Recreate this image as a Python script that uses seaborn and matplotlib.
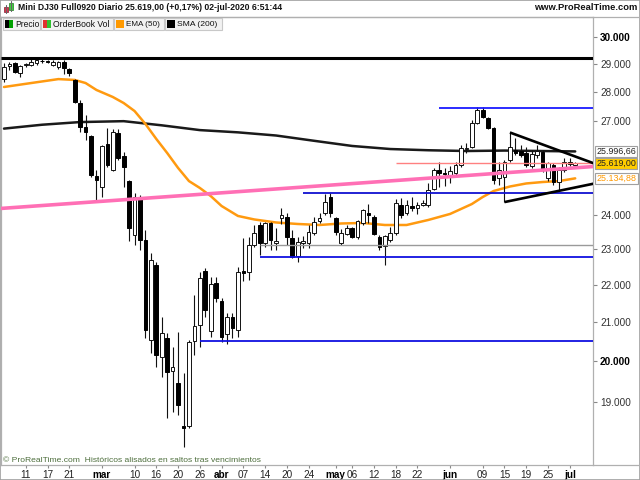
import numpy as np
import pandas as pd
import matplotlib
matplotlib.use("Agg")
import matplotlib.pyplot as plt
import matplotlib.transforms as mtrans
from matplotlib.patches import Rectangle
from matplotlib.lines import Line2D
from matplotlib.ticker import FixedLocator, FixedFormatter, NullLocator
import seaborn as sns

sns.set_style("white")
plt.rcParams["font.family"] = ["Liberation Sans", "DejaVu Sans"]

# ---------------- data ----------------
HOLIDAYS = ["2020-04-10"]
dates = pd.bdate_range("2020-02-05", "2020-07-02")
dates = dates[~dates.isin(pd.to_datetime(HOLIDAYS))]

opens = [28460, 28930, 29040, 28680, 28970, 28970, 29040, 29110, 29110, 28970, 28900, 29080, 28820, 28430,
         27620, 26800, 26500, 25210, 24865, 26240, 25400, 26600, 25850, 25050, 23415, 24555, 23270, 20530,
         22550, 20100, 20580, 19750, 19455, 18435, 18435, 20505, 20920, 22380, 20765, 22050, 21560, 20685,
         21130, 20790, 22380, 22355, 23125, 23710, 23180, 23770, 23180, 23920, 23950, 23325, 22805, 23180,
         23180, 23475, 23830, 24070, 24555, 23920, 23180, 23445, 23620, 23355, 23770, 24070, 23950, 23355,
         23095, 23270, 23475, 24310, 24070, 24280, 24220, 24310, 24310, 24800, 25400, 25305, 25210, 25305,
         25560, 26075, 26140, 26940, 27380, 27110, 26770, 25145, 25175, 25720, 26045, 26010, 25945, 25525,
         25880, 25975, 25145, 25560, 25020, 25400, 25655, 25560]
highs = [29040, 29080, 29080, 28970, 29040, 29185, 29220, 29190, 29150, 29150, 29110, 29150, 28860, 28460,
         27725, 27210, 26540, 25400, 26207, 26770, 26740, 26740, 25980, 25085, 24680, 24615, 23560, 22890,
         22640, 21130, 20710, 20350, 20740, 19700, 20530, 21720, 22355, 22465, 22215, 22215, 21640, 21235,
         21235, 22495, 23325, 23355, 23710, 23800, 23800, 23800, 23620, 24220, 24070, 23560, 23355, 23385,
         23710, 23950, 24070, 24650, 24680, 23950, 23590, 23710, 23650, 23860, 24190, 24340, 24010, 23415,
         23415, 23650, 24495, 24525, 24465, 24555, 24400, 24465, 24990, 25465, 25655, 25465, 25525, 25655,
         26205, 26275, 27040, 27485, 27485, 27140, 26805, 25655, 25720, 26605, 26435, 26205, 26140, 26045,
         26205, 26045, 25655, 25620, 25495, 25785, 25785, 25655]
lows = [28360, 28790, 28680, 28535, 28900, 28930, 28970, 29040, 29040, 28930, 28820, 28640, 28570, 27620,
        26640, 26370, 25180, 24400, 24555, 25495, 25370, 25720, 24865, 23240, 23125, 22980, 20580, 20200,
        19850, 19600, 18620, 18760, 18690, 17955, 18390, 20150, 20350, 21130, 20605, 21530, 20480, 20430,
        20580, 20605, 22105, 22130, 23065, 22835, 23065, 22980, 22980, 23740, 23125, 22750, 22635, 23035,
        23035, 23415, 23770, 24010, 23950, 23415, 23125, 23415, 23325, 23300, 23710, 23770, 23415, 22980,
        22550, 23210, 23415, 23920, 24010, 24130, 24040, 24280, 24250, 24770, 24865, 24895, 24990, 25210,
        25495, 25945, 26110, 26905, 27110, 26735, 24955, 24925, 24400, 25655, 25880, 25815, 25495, 25465,
        25785, 25335, 25050, 24925, 24770, 25335, 25525, 25525]
closes = [28900, 29000, 28710, 28930, 29000, 29080, 29150, 29100, 29080, 29080, 29080, 28860, 28680, 27655,
          26805, 26640, 25240, 25080, 26175, 25560, 26640, 25780, 25495, 23620, 24555, 23270, 20790, 22690,
          20150, 20710, 19725, 19850, 18925, 18390, 20480, 20895, 22185, 21315, 22020, 21640, 20605, 21130,
          20840, 22355, 22325, 23125, 23475, 23180, 23770, 23270, 23240, 24010, 23355, 22780, 23210, 23240,
          23500, 23800, 23920, 24400, 24070, 23500, 23475, 23620, 23355, 23830, 24160, 24010, 23445, 23065,
          23385, 23475, 24370, 24010, 24310, 24220, 24310, 24370, 24770, 25400, 25305, 25270, 25365, 25560,
          26110, 26110, 26940, 27380, 27140, 26770, 25085, 25400, 25655, 26140, 25945, 25880, 25560, 25910,
          26010, 25400, 25620, 25020, 25400, 25655, 25590, 25619]

ema_dates = ["2020-02-05", "2020-02-12", "2020-02-19", "2020-02-24", "2020-02-26", "2020-02-28", "2020-03-04",
             "2020-03-06", "2020-03-10", "2020-03-12", "2020-03-16", "2020-03-18", "2020-03-20", "2020-03-24",
             "2020-03-26", "2020-03-30", "2020-04-01", "2020-04-06", "2020-04-09", "2020-04-16", "2020-04-22",
             "2020-04-28", "2020-05-04", "2020-05-08", "2020-05-14", "2020-05-20", "2020-05-26", "2020-06-01",
             "2020-06-05", "2020-06-09", "2020-06-11", "2020-06-16", "2020-06-19", "2020-06-24", "2020-06-29",
             "2020-07-02"]
ema_vals = [28180, 28320, 28460, 28430, 28320, 28075, 27830, 27620, 27345, 26905, 26405, 25945, 25465, 25050,
            24835, 24585, 24280, 23980, 23875, 23785, 23740, 23710, 23755, 23770, 23710, 23710, 23860, 24040,
            24340, 24555, 24740, 24880, 24975, 25020, 25050, 25135]

sma_dates = ["2020-02-05", "2020-02-14", "2020-02-25", "2020-03-06", "2020-03-17", "2020-03-26", "2020-04-06",
             "2020-04-16", "2020-04-27", "2020-05-06", "2020-05-15", "2020-05-26", "2020-06-04", "2020-06-15",
             "2020-06-24", "2020-07-02"]
sma_vals = [26750, 26880, 26970, 27000, 26860, 26700, 26625, 26520, 26345, 26175, 26075, 26035, 26010, 26025,
            26010, 25997]

# horizontal levels: (price, start date or None, colour, width)
level_prices = [29220, 27450, 25619, 24680, 23125, 22780, 20505]
level_starts = [None, "2020-05-28", "2020-05-18", "2020-04-23", "2020-04-13", "2020-04-13", "2020-03-26"]
level_colors = ["#000000", "#1a1aff", "#ff8080", "#1010d0", "#9a9a9a", "#1010e0", "#1010e0"]
level_widths = [2.2, 1.3, 1.0, 1.3, 1.0, 1.3, 1.3]

# pink trend line (two anchor points)
trend_dates = ["2020-02-05", "2020-07-02"]
trend_vals = [24213, 25469]

# triangle
tri_upper_dates = ["2020-06-16", "2020-07-08"]
tri_upper_vals = [26620, 25575]
tri_lower_dates = ["2020-06-15", "2020-07-08"]
tri_lower_vals = [24400, 24990]

ytick_vals = [19000, 20000, 21000, 22000, 23000, 24000, 27000, 28000, 29000, 30000]
ytick_labels = ["19.000", "20.000", "21.000", "22.000", "23.000", "24.000", "27.000", "28.000", "29.000",
                "30.000"]
xtick_dates = ["2020-02-11", "2020-02-17", "2020-02-21", "2020-03-02", "2020-03-10", "2020-03-16", "2020-03-20",
               "2020-03-26", "2020-04-01", "2020-04-07", "2020-04-14", "2020-04-20", "2020-04-24", "2020-05-01",
               "2020-05-06", "2020-05-12", "2020-05-18", "2020-05-22", "2020-06-01", "2020-06-09", "2020-06-15",
               "2020-06-19", "2020-06-25", "2020-07-01"]
xtick_labels = ["11", "17", "21", "mar", "10", "16", "20", "26", "abr", "07", "14", "20", "24", "may", "06",
                "12", "18", "22", "jun", "09", "15", "19", "25", "jul"]

price_boxes = [("25.996,66", 25997, "white", "#222222"),
               ("25.619,00", 25619, "#ffcc00", "#222222"),
               ("25.134,88", 25135, "white", "#ff9900")]


def pos(d):
    return int(np.busday_count(np.datetime64("2020-02-05"), np.datetime64(pd.Timestamp(d).date()),
                               holidays=HOLIDAYS))


W, H = 640, 480
fx = lambda px: px / W
fy = lambda py: 1 - py / H

fig = plt.figure(figsize=(6.4, 4.8), dpi=100)
ax = fig.add_axes([fx(1), fy(465), fx(593) - fx(1), fy(17) - fy(465)])

df = pd.DataFrame({"pos": np.arange(len(dates)), "open": opens, "high": highs, "low": lows, "close": closes})
up = df["close"] >= df["open"]

# indicators (under candles)
ema_df = pd.DataFrame({"pos": [pos(d) for d in ema_dates], "val": ema_vals})
sma_df = pd.DataFrame({"pos": [pos(d) for d in sma_dates], "val": sma_vals})
sns.lineplot(data=sma_df, x="pos", y="val", ax=ax, color="#1a1a1a", lw=1.8, zorder=2)
sns.lineplot(data=ema_df, x="pos", y="val", ax=ax, color="#ff9a10", lw=1.8, zorder=2)

# candles
ax.vlines(df["pos"], df["low"], df["high"], color="#111111", lw=0.8, zorder=3)
ax.bar(df["pos"][up], (df["close"] - df["open"])[up], bottom=df["open"][up], width=0.68,
       color="white", edgecolor="#111111", lw=0.7, zorder=4)
ax.bar(df["pos"][~up], (df["open"] - df["close"])[~up], bottom=df["close"][~up], width=0.68,
       color="black", edgecolor="black", lw=0.7, zorder=4)

xmin, xmax = -0.55, 108.27
ax.set_xlim(xmin, xmax)

# horizontal levels
for p, s, c, w in zip(level_prices, level_starts, level_colors, level_widths):
    x0 = xmin if s is None else pos(s)
    ax.hlines(p, x0, xmax, color=c, lw=w, zorder=5)

# pink trend line, straight on screen
ax.axline((pos(trend_dates[0]), trend_vals[0]), (pos(trend_dates[1]), trend_vals[1]),
          color="#ff6fb5", lw=2.6, zorder=5)

# triangle
ax.plot([pos(d) for d in tri_upper_dates], tri_upper_vals, color="black", lw=1.9, zorder=6,
        solid_capstyle="butt")
ax.plot([pos(d) for d in tri_lower_dates], tri_lower_vals, color="black", lw=1.9, zorder=6,
        solid_capstyle="butt")

ax.set_yscale("log")
ax.set_ylim(17558, 30760)
ax.yaxis.tick_right()
ax.yaxis.set_major_locator(FixedLocator(ytick_vals))
ax.yaxis.set_major_formatter(FixedFormatter(ytick_labels))
ax.yaxis.set_minor_locator(NullLocator())
ax.tick_params(axis="y", which="major", right=True, left=False, length=3, width=0.8, color="#888888",
               labelsize=7.2, pad=2, labelcolor="#333333")
for lab in ax.get_yticklabels():
    if lab.get_text() in ("20.000", "30.000"):
        lab.set_fontweight("bold")
        lab.set_color("#000000")

ax.set_xticks([pos(d) for d in xtick_dates])
ax.set_xticklabels(xtick_labels)
ax.tick_params(axis="x", bottom=True, length=2, width=0.8, color="#888888", labelsize=7.2, pad=1.5,
               labelcolor="#222222")
for lab in ax.get_xticklabels():
    if lab.get_text() in ("mar", "abr", "may", "jun", "jul"):
        lab.set_fontweight("bold")
        lab.set_color("#000000")
ax.set_xlabel("")
ax.set_ylabel("")
for s in ax.spines.values():
    s.set_color("#b0b0b0")
    s.set_linewidth(0.9)

# price boxes on right axis
btr = mtrans.blended_transform_factory(ax.transAxes, ax.transData)
for txt, val, fc, tc in price_boxes:
    ax.text(1.006, val, txt, transform=btr, ha="left", va="center", fontsize=6.4, color=tc,
            zorder=20, clip_on=False,
            bbox=dict(boxstyle="square,pad=0.12", fc=fc, ec="#a0a0a0", lw=0.8))

# ---------------- header ----------------
fig.add_artist(Line2D([0, 1], [fy(17), fy(17)], transform=fig.transFigure, color="#b0b0b0", lw=0.9))
fig.add_artist(Line2D([fx(593), 1], [fy(465), fy(465)], transform=fig.transFigure, color="#b0b0b0", lw=0.9))
fig.add_artist(Rectangle((0, 0), 1, 1, transform=fig.transFigure, fill=False, ec="#a0a0a0", lw=1.2))

# small candle icon
fig.add_artist(Line2D([fx(5.5), fx(5.5)], [fy(13), fy(5)], transform=fig.transFigure, color="#666", lw=0.8))
fig.add_artist(Rectangle((fx(3.5), fy(12)), fx(4), fy(7) - fy(12), transform=fig.transFigure,
                         fc="#e0304a", ec="#802030", lw=0.5))
fig.add_artist(Line2D([fx(10.5), fx(10.5)], [fy(11), fy(1)], transform=fig.transFigure, color="#666", lw=0.8))
fig.add_artist(Rectangle((fx(8.5), fy(10)), fx(4), fy(3) - fy(10), transform=fig.transFigure,
                         fc="#40d040", ec="#208020", lw=0.5))

t1 = fig.text(fx(18), fy(8), "Mini DJ30 Full0920 Diario 25.619,00 (+0,17%) 02-jul-2020 6:51:44",
              ha="left", va="center", fontsize=7.5, fontweight="bold", color="#111111")
t2 = fig.text(fx(637), fy(8), "www.ProRealTime.com", ha="right", va="center", fontsize=7.5,
              fontweight="bold", color="#111111")

# legend cells
cells = [("Precio", 3, 40, ("#000000", "#00a000"), 24),
         ("OrderBook Vol", 41, 113, ("#e03030", "#30c030"), 56),
         ("EMA (50)", 114, 164, ("#ff9900", "#ff9900"), 34),
         ("SMA (200)", 165, 222, ("#000000", "#000000"), 40)]
fit_list = [(t1, 263), (t2, 104)]
for name, x0, x1, (c1, c2), tw in cells:
    fig.add_artist(Rectangle((fx(x0), fy(30)), fx(x1 - x0), fy(18) - fy(30), transform=fig.transFigure,
                             fc="#f2f2f2", ec="#c8c8c8", lw=0.8, zorder=8))
    fig.add_artist(Rectangle((fx(x0 + 2), fy(28)), fx(4), fy(20) - fy(28), transform=fig.transFigure,
                             fc=c1, ec="none", zorder=9))
    fig.add_artist(Rectangle((fx(x0 + 6), fy(28)), fx(4), fy(20) - fy(28), transform=fig.transFigure,
                             fc=c2, ec="none", zorder=9))
    lt = fig.text(fx(x0 + 12), fy(24.5), name, ha="left", va="center", fontsize=7.0, color="#111111",
                  zorder=10)
    fit_list.append((lt, tw))

t3 = fig.text(fx(3), fy(460), "\u00a9 ProRealTime.com  Hist\u00f3ricos alisados en saltos tras vencimientos",
              ha="left", va="center", fontsize=6.2, color="#4d6e3c", zorder=10)
fit_list.append((t3, 258))

fig.canvas.draw()
r = fig.canvas.get_renderer()
for t, w in fit_list:
    bb = t.get_window_extent(r)
    t.set_fontsize(t.get_fontsize() * w / bb.width)

fig.savefig("out.png", dpi=100)
